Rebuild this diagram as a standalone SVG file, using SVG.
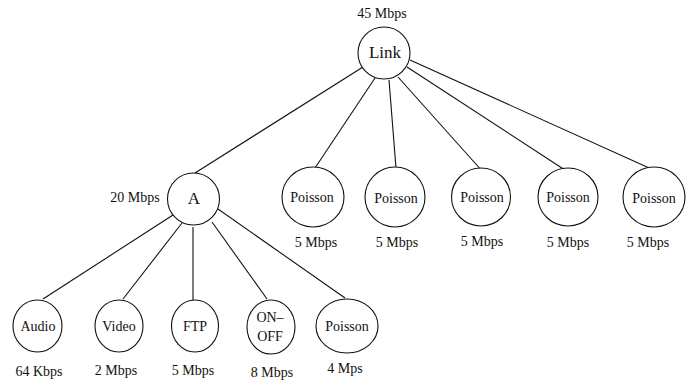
<svg xmlns="http://www.w3.org/2000/svg" width="696" height="382" viewBox="0 0 696 382">
<style>
.n{fill:#fff;stroke:#111;stroke-width:1.1}
.e line{stroke:#111;stroke-width:1.1}
text{font-family:"Liberation Serif","Times New Roman",serif;fill:#111;text-anchor:middle}
.t{font-size:14px}
.big{font-size:17px}
.l{font-size:14px}
</style>
<rect width="696" height="382" fill="#fff"/>
<g id="connectors" class="e">
<line x1="363" y1="67" x2="195" y2="173"/>
<line x1="375" y1="78" x2="315" y2="168"/>
<line x1="389" y1="80" x2="396" y2="168"/>
<line x1="398" y1="77" x2="483" y2="172"/>
<line x1="407" y1="67" x2="568" y2="172"/>
<line x1="410" y1="60" x2="658" y2="172"/>
<line x1="173" y1="215" x2="43" y2="299"/>
<line x1="182" y1="223" x2="123" y2="299"/>
<line x1="193" y1="227" x2="193" y2="300"/>
<line x1="212" y1="222" x2="267" y2="299"/>
<line x1="218" y1="209" x2="345" y2="298"/>
</g>
<g id="link">
<ellipse class="n" cx="384" cy="53" rx="26" ry="26"/>
<text class="big" x="385" y="58">Link</text>
<text class="l" x="382" y="18">45 Mbps</text>
</g>
<g id="A">
<ellipse class="n" cx="193.5" cy="199" rx="26" ry="26"/>
<text class="big" x="194" y="204">A</text>
<text class="l" x="135" y="202">20 Mbps</text>
</g>
<g id="p1">
<ellipse class="n" cx="313" cy="197" rx="31" ry="30"/>
<text class="t" x="312" y="202">Poisson</text>
<text class="l" x="316" y="247">5 Mbps</text>
</g>
<g id="p2">
<ellipse class="n" cx="395" cy="197" rx="30" ry="30"/>
<text class="t" x="396" y="203">Poisson</text>
<text class="l" x="397" y="247">5 Mbps</text>
</g>
<g id="p3">
<ellipse class="n" cx="481" cy="197" rx="29.5" ry="29"/>
<text class="t" x="482" y="202">Poisson</text>
<text class="l" x="482" y="246">5 Mbps</text>
</g>
<g id="p4">
<ellipse class="n" cx="568" cy="197" rx="30" ry="29"/>
<text class="t" x="568" y="202">Poisson</text>
<text class="l" x="568" y="247">5 Mbps</text>
</g>
<g id="p5">
<ellipse class="n" cx="654" cy="197" rx="31" ry="30"/>
<text class="t" x="654" y="203">Poisson</text>
<text class="l" x="648" y="247">5 Mbps</text>
</g>
<g id="audio">
<ellipse class="n" cx="37.5" cy="326" rx="24.5" ry="26"/>
<text class="t" x="38" y="331">Audio</text>
<text class="l" x="39" y="376">64 Kbps</text>
</g>
<g id="video">
<ellipse class="n" cx="119" cy="326" rx="24" ry="26"/>
<text class="t" x="119" y="331">Video</text>
<text class="l" x="116" y="375">2 Mbps</text>
</g>
<g id="ftp">
<ellipse class="n" cx="195" cy="326" rx="23.5" ry="26"/>
<text class="t" x="195" y="331">FTP</text>
<text class="l" x="193" y="375">5 Mbps</text>
</g>
<g id="onoff">
<ellipse class="n" cx="271" cy="327" rx="24" ry="27"/>
<text class="t" x="270" y="322">ON–</text>
<text class="t" x="270" y="341">OFF</text>
<text class="l" x="272" y="377">8 Mbps</text>
</g>
<g id="poisson-a">
<ellipse class="n" cx="347" cy="326" rx="31" ry="27"/>
<text class="t" x="347" y="331">Poisson</text>
<text class="l" x="345" y="373">4 Mps</text>
</g>
</svg>
